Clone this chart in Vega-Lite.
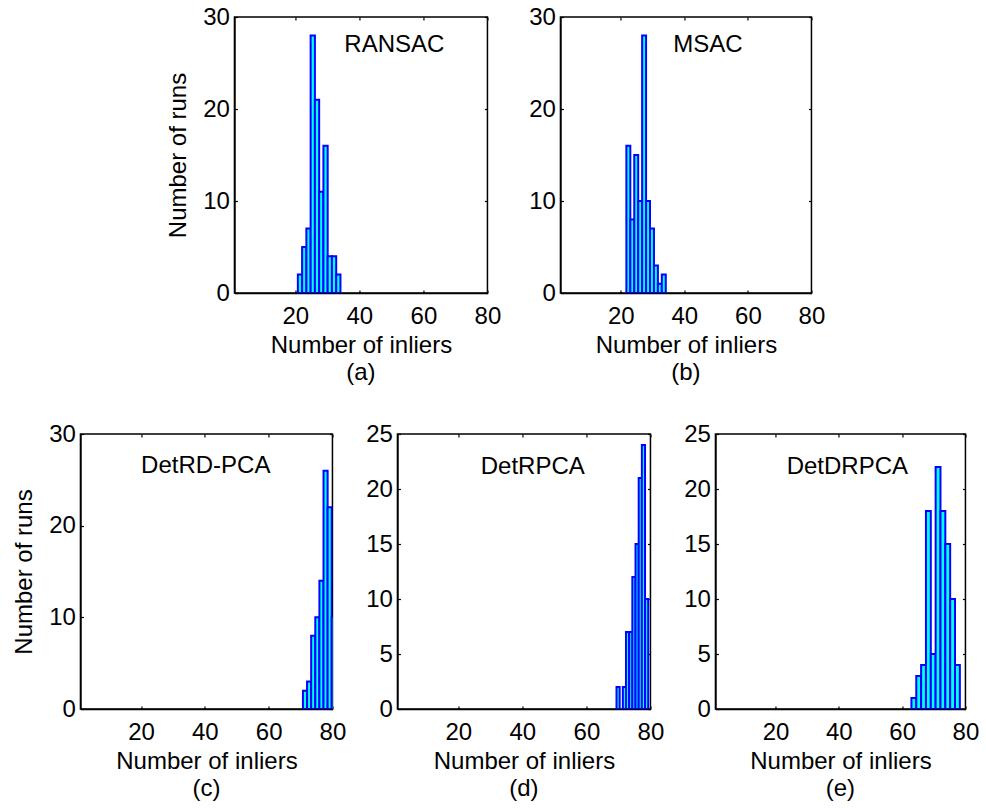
{
 "$schema": "https://vega.github.io/schema/vega-lite/v6.json",
 "padding": {"left": 12, "top": 4, "right": 5, "bottom": 5},
 "background": "white",
 "config": {
  "font": "Liberation Sans",
  "view": {"stroke": "black", "strokeWidth": 1.5},
  "axis": {"grid": false, "labelFlush": false, "labelOverlap": false, "labelFontSize": 24, "titleFontSize": 24, "titleFontWeight": "normal", "labelColor": "black", "titleColor": "black", "tickColor": "black", "domainColor": "black", "domainWidth": 1.5, "tickWidth": 1.2, "tickSize": -3, "zindex": 1, "labelFont": "Liberation Sans", "titleFont": "Liberation Sans"},
  "axisX": {"labelPadding": 14, "titlePadding": 5},
  "axisY": {"labelPadding": 8, "titlePadding": 12},
  "title": {"fontSize": 24, "fontWeight": "normal", "font": "Liberation Sans", "color": "black", "orient": "bottom", "anchor": "middle", "frame": "group", "offset": 4},
  "text": {"font": "Liberation Sans", "fontSize": 24, "color": "black"}
 },
 "datasets": {
  "a": [{"x0":20.8,"x1":22.13,"n":2},{"x0":22.13,"x1":23.46,"n":5},{"x0":23.46,"x1":24.79,"n":7},{"x0":24.79,"x1":26.12,"n":28},{"x0":26.12,"x1":27.45,"n":21},{"x0":27.45,"x1":28.78,"n":11},{"x0":28.78,"x1":30.11,"n":16},{"x0":30.11,"x1":31.44,"n":4},{"x0":31.44,"x1":32.77,"n":4},{"x0":32.77,"x1":34.1,"n":2}],
  "b": [{"x0":21.75,"x1":22.99,"n":16},{"x0":22.99,"x1":24.23,"n":8},{"x0":24.23,"x1":25.47,"n":15},{"x0":25.47,"x1":26.71,"n":10},{"x0":26.71,"x1":27.95,"n":28},{"x0":27.95,"x1":29.19,"n":10},{"x0":29.19,"x1":30.43,"n":7},{"x0":30.43,"x1":31.67,"n":3},{"x0":31.67,"x1":32.91,"n":1},{"x0":32.91,"x1":34.15,"n":2}],
  "c": [{"x0":70.75,"x1":72.04,"n":2},{"x0":72.04,"x1":73.33,"n":3},{"x0":73.33,"x1":74.62,"n":8},{"x0":74.62,"x1":75.91,"n":10},{"x0":75.91,"x1":77.2,"n":14},{"x0":77.2,"x1":78.49,"n":26},{"x0":78.49,"x1":79.78,"n":22},{"x0":79.78,"x1":81.07,"n":10}],
  "d": [{"x0":69.4,"x1":70.39,"n":2},{"x0":71.38,"x1":72.37,"n":2},{"x0":72.37,"x1":73.36,"n":7},{"x0":73.36,"x1":74.35,"n":7},{"x0":74.35,"x1":75.34,"n":12},{"x0":75.34,"x1":76.33,"n":15},{"x0":76.33,"x1":77.32,"n":21},{"x0":77.32,"x1":78.31,"n":24},{"x0":78.31,"x1":79.3,"n":10}],
  "e": [{"x0":62.93,"x1":64.46,"n":1},{"x0":64.46,"x1":65.99,"n":3},{"x0":65.99,"x1":67.52,"n":4},{"x0":67.52,"x1":69.05,"n":18},{"x0":69.05,"x1":70.58,"n":5},{"x0":70.58,"x1":72.11,"n":22},{"x0":72.11,"x1":73.64,"n":18},{"x0":73.64,"x1":75.17,"n":15},{"x0":75.17,"x1":76.7,"n":10},{"x0":76.7,"x1":78.23,"n":4}]
 },
 "spacing": 35,
 "center": true,
 "vconcat": [
  {
   "spacing": 73,
   "bounds": "flush",
   "hconcat": [
    {
     "width": 253, "height": 276,
     "title": {"text": "(a)"},
     "layer": [
      {"data": {"name": "a"}, "mark": {"type": "rect", "fill": "#00FFFF", "stroke": "#0000FF", "strokeWidth": 2, "clip": true},
       "encoding": {
        "x": {"field": "x0", "type": "quantitative", "scale": {"domain": [1, 80]}, "axis": {"values": [20, 40, 60, 80], "title": "Number of inliers"}},
        "x2": {"field": "x1"},
        "y": {"field": "n", "type": "quantitative", "scale": {"domain": [0, 30]}, "axis": {"values": [0, 10, 20, 30], "title": "Number of runs"}},
        "y2": {"datum": 0}
       }},
      {"data": {"values": [{"label": "RANSAC"}]}, "mark": {"type": "text", "align": "left", "baseline": "middle"},
       "encoding": {
        "x": {"datum": 35.3, "type": "quantitative", "scale": {"domain": [1, 80]}, "axis": {"orient": "top", "values": [20, 40, 60, 80], "labels": false, "title": null, "domain": false}},
        "y": {"datum": 27, "type": "quantitative", "scale": {"domain": [0, 30]}, "axis": {"orient": "right", "values": [0, 10, 20, 30], "labels": false, "title": null, "domain": false}},
        "text": {"field": "label"}
       }}
     ],
     "resolve": {"axis": {"x": "independent", "y": "independent"}}
    },
    {
     "width": 251, "height": 276,
     "title": {"text": "(b)"},
     "layer": [
      {"data": {"name": "b"}, "mark": {"type": "rect", "fill": "#00FFFF", "stroke": "#0000FF", "strokeWidth": 2, "clip": true},
       "encoding": {
        "x": {"field": "x0", "type": "quantitative", "scale": {"domain": [1, 80]}, "axis": {"values": [20, 40, 60, 80], "title": "Number of inliers"}},
        "x2": {"field": "x1"},
        "y": {"field": "n", "type": "quantitative", "scale": {"domain": [0, 30]}, "axis": {"values": [0, 10, 20, 30], "title": null}},
        "y2": {"datum": 0}
       }},
      {"data": {"values": [{"label": "MSAC"}]}, "mark": {"type": "text", "align": "left", "baseline": "middle"},
       "encoding": {
        "x": {"datum": 36.5, "type": "quantitative", "scale": {"domain": [1, 80]}, "axis": {"orient": "top", "values": [20, 40, 60, 80], "labels": false, "title": null, "domain": false}},
        "y": {"datum": 27, "type": "quantitative", "scale": {"domain": [0, 30]}, "axis": {"orient": "right", "values": [0, 10, 20, 30], "labels": false, "title": null, "domain": false}},
        "text": {"field": "label"}
       }}
     ],
     "resolve": {"axis": {"x": "independent", "y": "independent"}}
    }
   ]
  },
  {
   "spacing": 65,
   "bounds": "flush",
   "hconcat": [
    {
     "width": 252, "height": 275,
     "title": {"text": "(c)"},
     "layer": [
      {"data": {"name": "c"}, "mark": {"type": "rect", "fill": "#00FFFF", "stroke": "#0000FF", "strokeWidth": 2, "clip": true},
       "encoding": {
        "x": {"field": "x0", "type": "quantitative", "scale": {"domain": [1, 80]}, "axis": {"values": [20, 40, 60, 80], "title": "Number of inliers"}},
        "x2": {"field": "x1"},
        "y": {"field": "n", "type": "quantitative", "scale": {"domain": [0, 30]}, "axis": {"values": [0, 10, 20, 30], "title": "Number of runs"}},
        "y2": {"datum": 0}
       }},
      {"data": {"values": [{"label": "DetRD-PCA"}]}, "mark": {"type": "text", "align": "left", "baseline": "middle"},
       "encoding": {
        "x": {"datum": 20, "type": "quantitative", "scale": {"domain": [1, 80]}, "axis": {"orient": "top", "values": [20, 40, 60, 80], "labels": false, "title": null, "domain": false}},
        "y": {"datum": 26.5, "type": "quantitative", "scale": {"domain": [0, 30]}, "axis": {"orient": "right", "values": [0, 10, 20, 30], "labels": false, "title": null, "domain": false}},
        "text": {"field": "label"}
       }}
     ],
     "resolve": {"axis": {"x": "independent", "y": "independent"}}
    },
    {
     "width": 253, "height": 275,
     "title": {"text": "(d)"},
     "layer": [
      {"data": {"name": "d"}, "mark": {"type": "rect", "fill": "#00FFFF", "stroke": "#0000FF", "strokeWidth": 2, "clip": true},
       "encoding": {
        "x": {"field": "x0", "type": "quantitative", "scale": {"domain": [1, 80]}, "axis": {"values": [20, 40, 60, 80], "title": "Number of inliers"}},
        "x2": {"field": "x1"},
        "y": {"field": "n", "type": "quantitative", "scale": {"domain": [0, 25]}, "axis": {"values": [0, 5, 10, 15, 20, 25], "title": null}},
        "y2": {"datum": 0}
       }},
      {"data": {"values": [{"label": "DetRPCA"}]}, "mark": {"type": "text", "align": "left", "baseline": "middle"},
       "encoding": {
        "x": {"datum": 27, "type": "quantitative", "scale": {"domain": [1, 80]}, "axis": {"orient": "top", "values": [20, 40, 60, 80], "labels": false, "title": null, "domain": false}},
        "y": {"datum": 22, "type": "quantitative", "scale": {"domain": [0, 25]}, "axis": {"orient": "right", "values": [0, 5, 10, 15, 20, 25], "labels": false, "title": null, "domain": false}},
        "text": {"field": "label"}
       }}
     ],
     "resolve": {"axis": {"x": "independent", "y": "independent"}}
    },
    {
     "width": 250, "height": 275,
     "title": {"text": "(e)"},
     "layer": [
      {"data": {"name": "e"}, "mark": {"type": "rect", "fill": "#00FFFF", "stroke": "#0000FF", "strokeWidth": 2, "clip": true},
       "encoding": {
        "x": {"field": "x0", "type": "quantitative", "scale": {"domain": [1, 80]}, "axis": {"values": [20, 40, 60, 80], "title": "Number of inliers"}},
        "x2": {"field": "x1"},
        "y": {"field": "n", "type": "quantitative", "scale": {"domain": [0, 25]}, "axis": {"values": [0, 5, 10, 15, 20, 25], "title": null}},
        "y2": {"datum": 0}
       }},
      {"data": {"values": [{"label": "DetDRPCA"}]}, "mark": {"type": "text", "align": "left", "baseline": "middle"},
       "encoding": {
        "x": {"datum": 23.5, "type": "quantitative", "scale": {"domain": [1, 80]}, "axis": {"orient": "top", "values": [20, 40, 60, 80], "labels": false, "title": null, "domain": false}},
        "y": {"datum": 22, "type": "quantitative", "scale": {"domain": [0, 25]}, "axis": {"orient": "right", "values": [0, 5, 10, 15, 20, 25], "labels": false, "title": null, "domain": false}},
        "text": {"field": "label"}
       }}
     ],
     "resolve": {"axis": {"x": "independent", "y": "independent"}}
    }
   ]
  }
 ]
}
